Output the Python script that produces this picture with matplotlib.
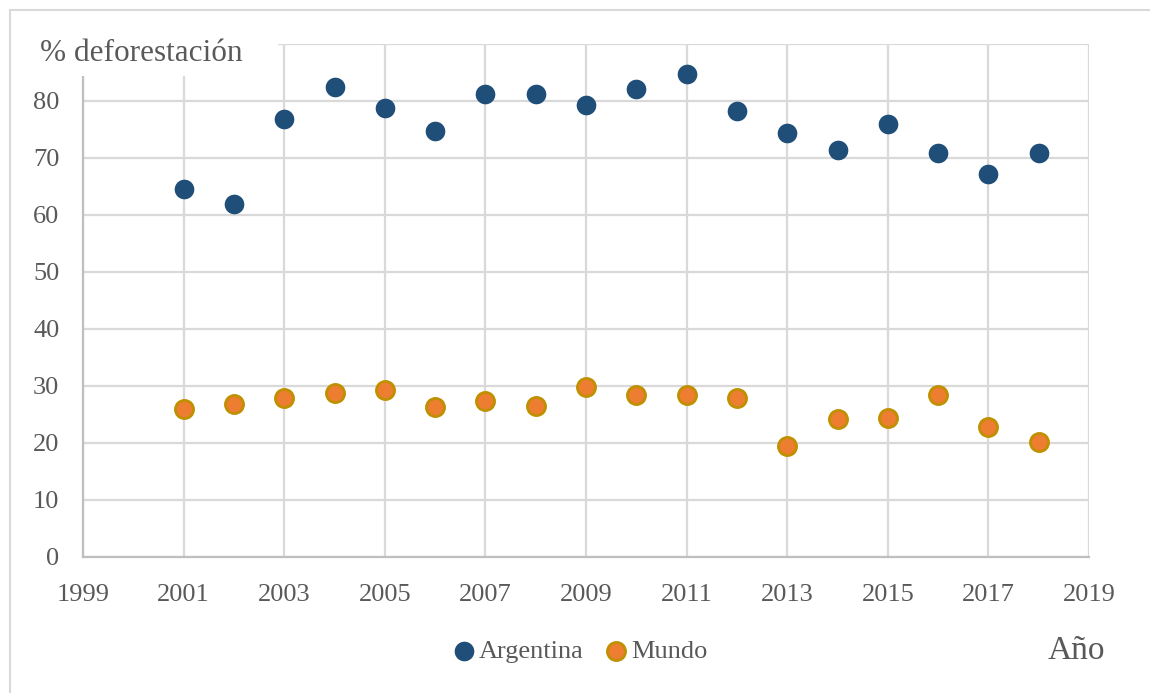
import matplotlib.pyplot as plt
from matplotlib.patches import Rectangle
import numpy as np

# Data
years = [2001, 2002, 2003, 2004, 2005, 2006, 2007, 2008, 2009,
         2010, 2011, 2012, 2013, 2014, 2015, 2016, 2017, 2018]
argentina = [64.5, 61.9, 76.8, 82.4, 78.7, 74.7, 81.1, 81.1, 79.3,
             82.1, 84.6, 78.2, 74.4, 71.4, 76.0, 70.9, 67.2, 70.9]
mundo = [26.0, 26.8, 27.8, 28.7, 29.2, 26.3, 27.4, 26.5, 29.8,
         28.4, 28.4, 27.8, 19.5, 24.1, 24.3, 28.4, 22.8, 20.1]
x_ticks = list(range(1999, 2020, 2))
y_ticks = list(range(0, 91, 10))

TEXT = '#595959'
GRID = '#D9D9D9'
plt.rcParams['font.family'] = ['Liberation Serif', 'DejaVu Serif']

W, H = 1150, 693
fig = plt.figure(figsize=(W / 100, H / 100), dpi=100)
ax = fig.add_axes([83 / W, 1 - 556.7 / H, (1089 - 83) / W, (556.7 - 43.7) / H])

ax.scatter(years, argentina, s=200, color='#1F4E79', linewidths=0,
           zorder=3, label='Argentina')
ax.scatter(years, mundo, s=170, color='#ED7D31', edgecolors='#BF9000',
           linewidths=2, zorder=3, label='Mundo')

ax.set_xlim(1999, 2019)
ax.set_ylim(0, 90)
ax.set_xticks(x_ticks)
ax.set_yticks(y_ticks)
ax.set_yticklabels([str(v) for v in y_ticks[:-1]] + [''])
ax.grid(True, color=GRID, linewidth=1.6)
ax.set_axisbelow(True)
for side in ['top', 'right']:
    ax.spines[side].set_visible(False)
for side in ['left', 'bottom']:
    ax.spines[side].set_color('#BFBFBF')
    ax.spines[side].set_linewidth(1.6)
ax.tick_params(axis='x', length=0, labelsize=19, labelcolor=TEXT, pad=20)
ax.tick_params(axis='y', length=0, labelsize=19, labelcolor=TEXT, pad=17)

# white box behind the y title, hiding the top of the grid
fig.patches.append(Rectangle((28 / W, 1 - 76 / H), 250 / W, 48 / H,
                             transform=fig.transFigure, facecolor='white',
                             edgecolor='none', zorder=5))
fig.text(40 / W, 1 - 61 / H, '% deforestación', fontsize=22.5, color=TEXT,
         ha='left', va='baseline', zorder=6)
fig.text(1048 / W, 1 - 659 / H, 'Año', fontsize=24, color=TEXT,
         ha='left', va='baseline')

leg = fig.legend(loc='center', bbox_to_anchor=(581 / W, 1 - 651 / H), ncol=2,
                 frameon=False, fontsize=19, handlelength=0.7,
                 handletextpad=0.23, columnspacing=0.87, markerscale=1.0)
for t in leg.get_texts():
    t.set_color(TEXT)

# light border of the chart area
fig.patches.append(Rectangle((9.5 / W, -0.1), 1.2, 1.1 - 9.5 / H,
                             transform=fig.transFigure, facecolor='none',
                             edgecolor='#D9D9D9', linewidth=1.5, zorder=0))

fig.savefig('out.png', dpi=100)
